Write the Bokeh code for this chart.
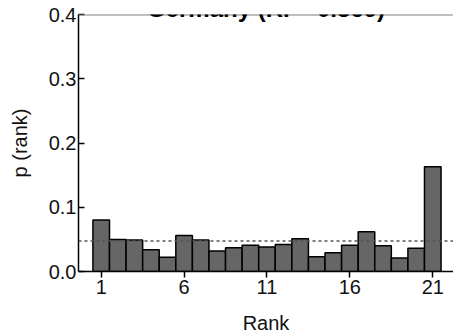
from bokeh.plotting import figure
from bokeh.models import FixedTicker, Span, Label, Range1d, PrintfTickFormatter
from bokeh.embed import file_html
from bokeh.resources import INLINE

# Data
ranks = list(range(1, 22))
probs = [0.080, 0.050, 0.049, 0.034, 0.022, 0.056, 0.049, 0.032, 0.037, 0.041,
         0.038, 0.042, 0.051, 0.023, 0.029, 0.041, 0.062, 0.040, 0.021, 0.036, 0.163]
uniform_p = 1.0 / 21
title_text = "Germany (RI = 0.369)"
x_ticks = [1, 6, 11, 16, 21]
y_ticks = [0.0, 0.1, 0.2, 0.3, 0.4]
x_lo, x_hi = -0.37, 22.25
y_lo, y_hi = 0.0, 0.4

FONT = "Liberation Sans"

p = figure(frame_width=375, frame_height=257,
           x_range=Range1d(x_lo, x_hi), y_range=Range1d(y_lo, y_hi),
           output_backend="svg", toolbar_location=None,
           min_border_left=78, min_border_right=0,
           min_border_top=22, min_border_bottom=0)
p.styles = {"margin-top": "-8px"}
p.outline_line_color = None
p.background_fill_color = "white"
p.border_fill_color = "white"
p.xgrid.visible = False
p.ygrid.visible = False

p.vbar(x=ranks, top=probs, width=1.0, bottom=0,
       fill_color="#666666", line_color="black", line_width=1.5)

p.add_layout(Span(location=uniform_p, dimension="width", line_color="#555555",
                  line_width=1.5, line_dash="3 3"))
p.add_layout(Span(location=y_hi, dimension="width", line_color="#808080",
                  line_width=2))

p.add_layout(Label(x=(x_lo + x_hi) / 2, y=y_hi + 0.0093, text=title_text,
                   text_align="center", text_baseline="alphabetic",
                   text_font=FONT, text_font_size="24px", text_font_style="bold",
                   text_color="black"))

# X axis
xa = p.xaxis[0]
xa.ticker = FixedTicker(ticks=x_ticks)
xa.minor_tick_line_color = None
xa.major_tick_in = 0
xa.major_tick_out = 6
xa.major_tick_line_width = 1.5
xa.axis_line_width = 1.5
xa.axis_line_color = "black"
xa.major_tick_line_color = "black"
xa.major_label_text_font = FONT
xa.major_label_text_font_size = "20px"
xa.major_label_text_color = "#111111"
xa.major_label_standoff = 2
xa.axis_label = "Rank"
xa.axis_label_text_font = FONT
xa.axis_label_text_font_size = "20px"
xa.axis_label_text_font_style = "normal"
xa.axis_label_text_color = "#111111"
xa.axis_label_standoff = 15

# Y axis
ya = p.yaxis[0]
ya.ticker = FixedTicker(ticks=y_ticks)
ya.formatter = PrintfTickFormatter(format="%.1f")
ya.minor_tick_line_color = None
ya.major_tick_in = 6
ya.major_tick_out = 0
ya.major_tick_line_width = 1.5
ya.axis_line_width = 1.5
ya.axis_line_color = "black"
ya.major_tick_line_color = "black"
ya.major_label_text_font = FONT
ya.major_label_text_font_size = "20px"
ya.major_label_text_color = "#111111"
ya.major_label_standoff = 2
ya.axis_label = "p (rank)"
ya.axis_label_text_font = FONT
ya.axis_label_text_font_size = "20px"
ya.axis_label_text_font_style = "normal"
ya.axis_label_text_color = "#111111"
ya.axis_label_standoff = 15

open("out.html", "w").write(file_html(p, INLINE))
